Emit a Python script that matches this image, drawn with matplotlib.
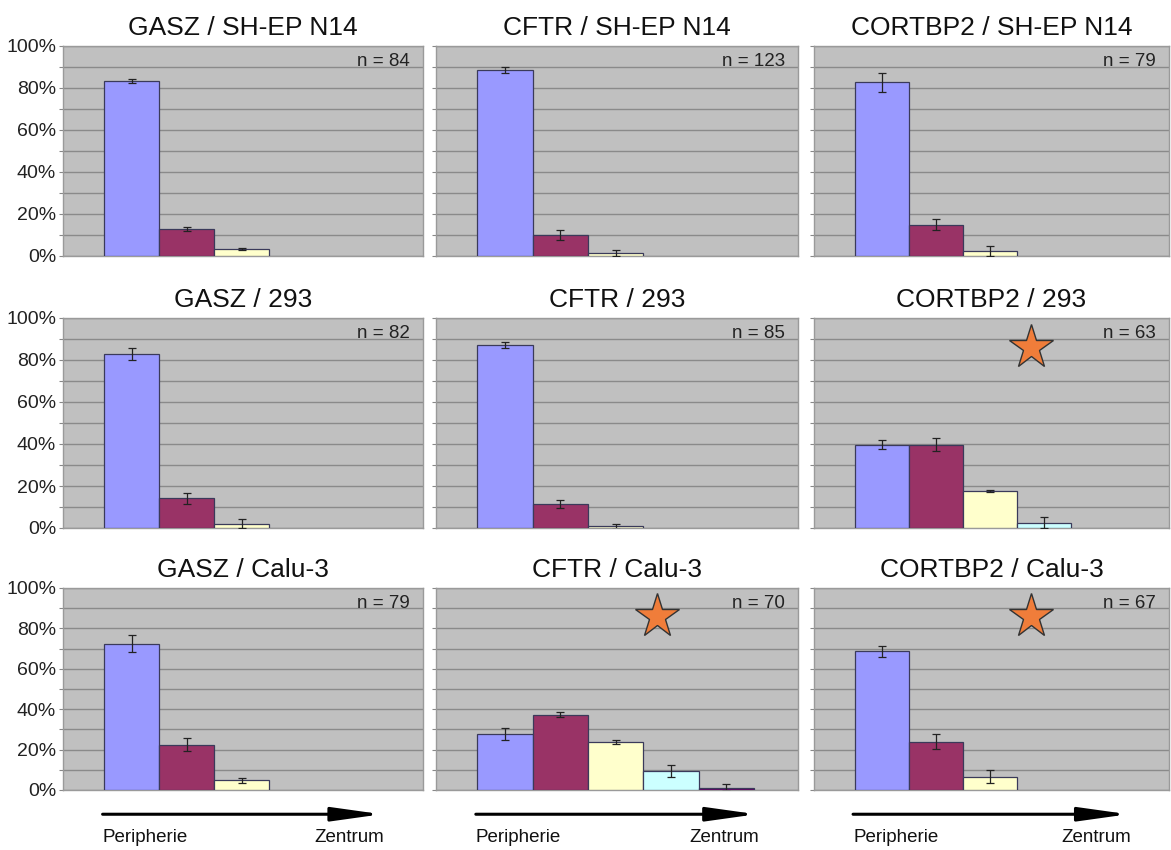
import matplotlib
matplotlib.use("Agg")
import matplotlib.pyplot as plt
import numpy as np

plt.rcParams['font.family'] = ['Liberation Sans', 'DejaVu Sans']

# ---------------- data ----------------
titles = ["GASZ / SH-EP N14", "CFTR / SH-EP N14", "CORTBP2 / SH-EP N14",
          "GASZ / 293", "CFTR / 293", "CORTBP2 / 293",
          "GASZ / Calu-3", "CFTR / Calu-3", "CORTBP2 / Calu-3"]
n_counts = [84, 123, 79, 82, 85, 63, 79, 70, 67]

means = [
    [83.5, 12.8, 3.5],
    [88.6, 9.8, 1.6],
    [82.8, 14.9, 2.4],
    [82.9, 14.1, 2.1],
    [87.2, 11.5, 0.8],
    [39.7, 39.7, 17.5, 2.5],
    [72.4, 22.4, 4.8],
    [27.8, 37.2, 23.9, 9.4, 1.2],
    [68.6, 24.0, 6.6],
]
errors = [
    [0.9, 1.1, 0.5],
    [1.6, 2.4, 1.4],
    [4.5, 2.6, 2.2],
    [2.8, 2.6, 2.1],
    [1.4, 2.0, 1.3],
    [2.2, 3.1, 0.5, 2.6],
    [4.3, 3.2, 1.2],
    [3.0, 1.3, 1.0, 3.0, 1.9],
    [2.6, 3.6, 3.3],
]
significant = [False, False, False, False, False, True, False, True, True]
bar_colors = ["#9999FF", "#993366", "#FFFFCC", "#CCFFFF", "#660066"]
ytick_vals = [0, 20, 40, 60, 80, 100]
ytick_labels = ["0%", "20%", "40%", "60%", "80%", "100%"]
axis_start_label = "Peripherie"
axis_end_label = "Zentrum"

# ---------------- layout ----------------
W, H = 1171, 850
fig = plt.figure(figsize=(W / 100, H / 100), dpi=100)

# axes boxes in pixels: (left, top, right, bottom)
boxes = [
    (63, 46, 423, 256), (436, 46, 798, 256), (814, 46, 1169, 256),
    (63, 318, 423, 528), (436, 318, 798, 528), (814, 318, 1169, 528),
    (63, 588, 423, 790), (436, 588, 798, 790), (814, 588, 1169, 790),
]

for i, (l, t, r, b) in enumerate(boxes):
    ax = fig.add_axes([l / W, 1 - b / H, (r - l) / W, (b - t) / H])
    ax.set_facecolor("#C0C0C0")
    vals = means[i]
    errs = errors[i]
    x = np.arange(len(vals))
    ax.bar(x, vals, width=1.0, color=bar_colors[:len(vals)],
           edgecolor="#3a3a5a", linewidth=0.9, zorder=3)
    ax.errorbar(x, vals, yerr=errs, fmt="none", ecolor="#222222",
                elinewidth=0.9, capsize=3, capthick=0.9, zorder=4)
    ax.set_xlim(-1.25, 5.3)
    ax.set_ylim(0, 100)
    ax.set_xticks([])
    ax.set_yticks(np.arange(0, 101, 10), minor=True)
    ax.set_yticks(ytick_vals)
    ax.grid(axis="y", which="both", color="#8a8a8a", linewidth=1.0, zorder=1)
    ax.set_axisbelow(True)
    if i % 3 == 0:
        ax.set_yticklabels(ytick_labels, fontsize=14, color="#222222")
    else:
        ax.set_yticklabels([])
    ax.tick_params(axis="y", which="both", length=3, width=0.8,
                   color="#888888", pad=2)
    for s in ax.spines.values():
        s.set_color("#9a9a9a")
        s.set_linewidth(1.0)
    ax.set_title(titles[i], fontsize=19, color="#111111", pad=8)
    ax.text(0.964, 0.965, f"n = {n_counts[i]}", transform=ax.transAxes,
            ha="right", va="top", fontsize=13.5, color="#222222")
    if significant[i]:
        ax.plot([0.61], [0.86], marker="*", markersize=33,
                markerfacecolor="#F07D3A", markeredgecolor="#333333",
                markeredgewidth=1.0, transform=ax.transAxes, zorder=5,
                clip_on=False)
    if i >= 6:
        ax.annotate("", xy=(0.885, -0.12), xytext=(0.11, -0.12),
                    xycoords="axes fraction", textcoords="axes fraction",
                    arrowprops=dict(arrowstyle="-|>,head_length=3.0,head_width=0.42",
                                    color="black", linewidth=2.2,
                                    shrinkA=0, shrinkB=0))
        ax.text(0.11, -0.235, axis_start_label, transform=ax.transAxes,
                ha="left", va="center", fontsize=13.5, color="#111111")
        ax.text(0.893, -0.235, axis_end_label, transform=ax.transAxes,
                ha="right", va="center", fontsize=13.5, color="#111111")

fig.savefig("out.png", dpi=100, facecolor="white")
